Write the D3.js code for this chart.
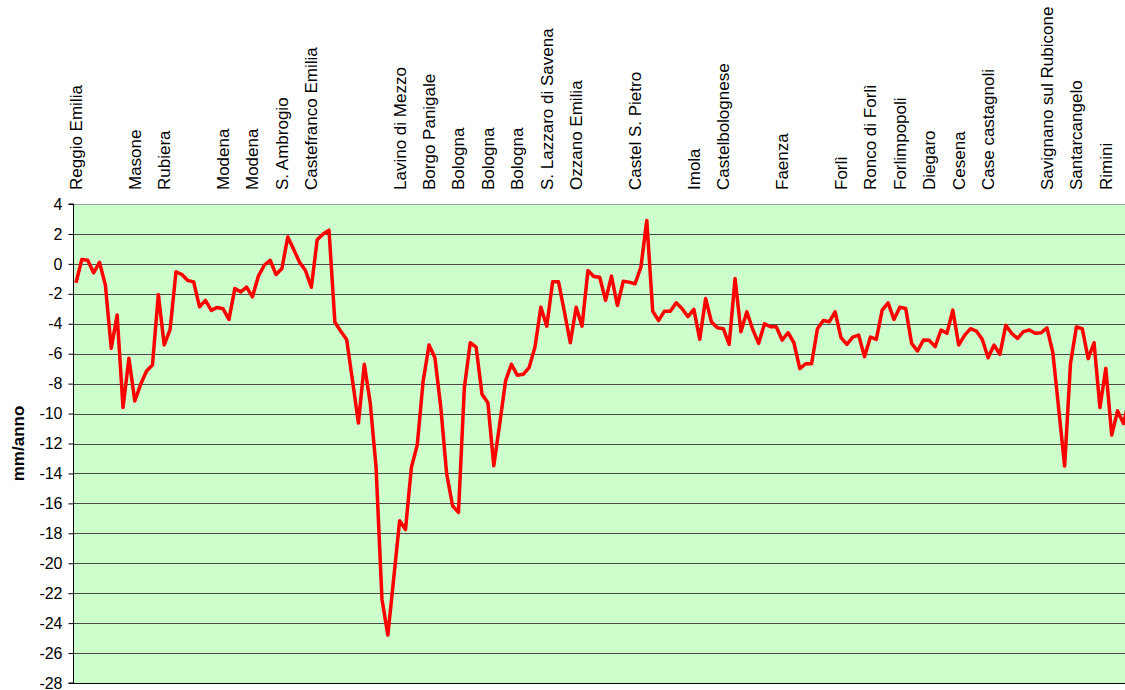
<!DOCTYPE html>
<html>
<head>
<meta charset="utf-8">
<script src="https://cdn.jsdelivr.net/npm/d3@7"></script>
<style>
  html, body { margin: 0; padding: 0; background: #ffffff; }
  svg { display: block; }
  text { font-family: "Liberation Sans", Arial, sans-serif; fill: #000; }
</style>
</head>
<body>
<svg id="chart" width="1125" height="690"></svg>
<script>
// ---- data ----
// station labels, one per 5 survey points (blank = no label)
const labelEvery5 = [
  "Reggio Emilia", "", "Masone", "Rubiera", "", "Modena", "Modena", "S. Ambrogio",
  "Castefranco Emilia", "", "", "Lavino di Mezzo", "Borgo Panigale", "Bologna",
  "Bologna", "Bologna", "S. Lazzaro di Savena", "Ozzano Emilia", "", "Castel S. Pietro",
  "", "Imola", "Castelbolognese", "", "Faenza", "", "Forlì", "Ronco di Forlì",
  "Forlimpopoli", "Diegaro", "Cesena", "Case castagnoli", "", "Savignano sul Rubicone",
  "Santarcangelo", "Rimini"
];

// subsidence velocity (mm/anno) along the levelling line
const velocity = [
  -1.27, 0.29, 0.24, -0.6, 0.11, -1.4, -5.64, -3.42, -9.6, -6.31,
  -9.16, -8.04, -7.16, -6.76, -2.04, -5.42, -4.38, -0.53, -0.71, -1.11,
  -1.2, -2.87, -2.44, -3.11, -2.91, -3.0, -3.71, -1.64, -1.87, -1.56,
  -2.2, -0.82, -0.09, 0.24, -0.71, -0.31, 1.8, 0.96, 0.11, -0.44,
  -1.56, 1.62, 2.0, 2.25, -3.9, -4.5, -5.05, -7.8, -10.63, -6.7,
  -9.27, -13.6, -22.4, -24.8, -21.0, -17.16, -17.75, -13.6, -12.09, -7.82,
  -5.42, -6.27, -9.6, -14.04, -16.16, -16.6, -8.27, -5.27, -5.56, -8.71,
  -9.27, -13.49, -10.71, -7.82, -6.71, -7.44, -7.38, -6.93, -5.56, -2.89,
  -4.16, -1.2, -1.2, -3.2, -5.27, -2.9, -4.16, -0.44, -0.84, -0.89,
  -2.44, -0.82, -2.78, -1.16, -1.22, -1.33, -0.22, 2.9, -3.16, -3.78,
  -3.16, -3.16, -2.6, -3.0, -3.53, -3.04, -5.04, -2.31, -3.89, -4.27,
  -4.33, -5.38, -0.98, -4.53, -3.2, -4.38, -5.31, -4.0, -4.2, -4.2,
  -5.09, -4.6, -5.27, -7.0, -6.67, -6.67, -4.33, -3.78, -3.87, -3.2,
  -4.93, -5.38, -4.89, -4.76, -6.2, -4.89, -5.04, -3.09, -2.6, -3.71,
  -2.89, -2.98, -5.31, -5.82, -5.09, -5.11, -5.53, -4.42, -4.64, -3.09,
  -5.42, -4.78, -4.33, -4.49, -5.04, -6.27, -5.42, -6.04, -4.11, -4.64,
  -4.98, -4.53, -4.42, -4.64, -4.6, -4.27, -5.93, -9.7, -13.5, -6.65,
  -4.22, -4.33, -6.33, -5.27, -9.6, -6.98, -11.44, -9.82, -10.67, -9.0
];

const yTicks = [4, 2, 0, -2, -4, -6, -8, -10, -12, -14, -16, -18, -20, -22, -24, -26, -28];
const yTitle = "mm/anno";

// one category per point, labels only every fifth point
const categories = velocity.map((_, i) => (i % 5 === 0 ? (labelEvery5[i / 5] || "") : ""));

// ---- layout ----
const svg = d3.select("#chart");
const plotLeft = 73, plotTop = 204, plotBottom = 683;
const step = 5.885;
const plotRight = plotLeft + velocity.length * step;

const x = d3.scaleBand()
  .domain(d3.range(velocity.length))
  .range([plotLeft, plotRight])
  .paddingInner(0).paddingOuter(0);
const cx = i => x(i) + x.bandwidth() / 2;

const y = d3.scaleLinear().domain([-28, 4]).range([plotBottom, plotTop]);

// plot background
svg.append("rect")
  .attr("x", plotLeft).attr("y", plotTop)
  .attr("width", plotRight - plotLeft).attr("height", plotBottom - plotTop)
  .attr("fill", "#CCFFCC");

// gridlines
svg.append("g").selectAll("line")
  .data(yTicks)
  .join("line")
  .attr("x1", plotLeft).attr("x2", plotRight)
  .attr("y1", d => Math.round(y(d)) + 0.5).attr("y2", d => Math.round(y(d)) + 0.5)
  .attr("stroke", d => d === 4 ? "#a0a0a0" : (d === -28 ? "#000" : "#4a4a4a"))
  .attr("stroke-width", 1);

// y axis
const yAxis = d3.axisLeft(y).tickValues(yTicks).tickSize(5).tickPadding(6).tickFormat(d => d);
const gy = svg.append("g")
  .attr("transform", `translate(${plotLeft + 0.5},0)`)
  .call(yAxis);
gy.select(".domain").attr("stroke", "#000").attr("d", `M-5,${y(4)}H0V${y(-28)}H-5`);
gy.selectAll(".tick line").attr("stroke", "#000");
gy.selectAll(".tick text")
  .attr("font-size", "16px")
  .attr("font-family", "'Liberation Sans', Arial, sans-serif")
  .attr("fill", "#000");

// y title
svg.append("text")
  .attr("transform", `translate(24,${(plotTop + plotBottom) / 2}) rotate(-90)`)
  .attr("text-anchor", "middle")
  .attr("font-size", "17px")
  .attr("font-weight", "bold")
  .text(yTitle);

// category labels (top, rotated)
svg.append("g").selectAll("text")
  .data(categories.map((c, i) => ({ c, i })).filter(d => d.c !== ""))
  .join("text")
  .attr("transform", d => `translate(${cx(d.i) + 6},190) rotate(-90)`)
  .attr("text-anchor", "start")
  .attr("font-size", "17px")
  .text(d => d.c);

// line
const line = d3.line()
  .x((d, i) => cx(i))
  .y(d => y(d));

svg.append("path")
  .datum(velocity)
  .attr("fill", "none")
  .attr("stroke", "#FF0000")
  .attr("stroke-width", 3.5)
  .attr("stroke-linejoin", "round")
  .attr("d", line);
</script>
</body>
</html>
